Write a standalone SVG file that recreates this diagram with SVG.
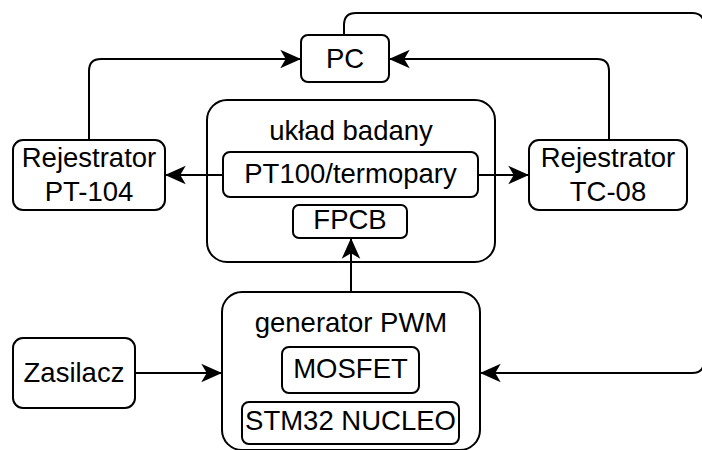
<svg xmlns="http://www.w3.org/2000/svg" width="702" height="450" viewBox="0 0 702 450">
<defs>
<style>
.box{fill:#fff;stroke:#000;stroke-width:2}
.t{font-family:"Liberation Sans",Arial,Helvetica,sans-serif;font-size:27.5px;fill:#000;text-anchor:middle}
.c{fill:none;stroke:#000;stroke-width:2}
</style>
<marker id="arr" markerUnits="userSpaceOnUse" markerWidth="24" markerHeight="24" viewBox="-20 -10 22 20" refX="0" refY="0" orient="auto">
<path d="M0,0 L-19,-8.5 L-14,0 L-19,8.5 Z" fill="#000" stroke="none"/>
</marker>
</defs>
<rect x="0" y="0" width="702" height="450" fill="#fff"/>
<g id="uklad">
<rect class="box" x="207" y="100" width="288" height="162" rx="20"/>
<text class="t" x="351" y="140">układ badany</text>
</g>
<g id="pt100">
<rect class="box" x="223" y="152" width="255" height="45" rx="7"/>
<text class="t" x="350.5" y="182.5">PT100/termopary</text>
</g>
<g id="fpcb">
<rect class="box" x="293" y="205" width="114" height="33" rx="6"/>
<text class="t" x="350" y="228.5">FPCB</text>
</g>
<g id="pc">
<rect class="box" x="301" y="35" width="88" height="47" rx="7"/>
<text class="t" x="345" y="68">PC</text>
</g>
<g id="pt104">
<rect class="box" x="13" y="140" width="152" height="70" rx="10"/>
<text class="t" x="89" y="167">Rejestrator</text>
<text class="t" x="89" y="201">PT-104</text>
</g>
<g id="tc08">
<rect class="box" x="529" y="140" width="158" height="70" rx="10"/>
<text class="t" x="608" y="167">Rejestrator</text>
<text class="t" x="608" y="201">TC-08</text>
</g>
<g id="generator">
<rect class="box" x="222" y="292" width="258" height="158" rx="20"/>
<text class="t" x="351" y="332">generator PWM</text>
</g>
<g id="mosfet">
<rect class="box" x="282" y="347" width="137" height="46" rx="7"/>
<text class="t" x="350.5" y="378">MOSFET</text>
</g>
<g id="stm32">
<rect class="box" x="242" y="402" width="217" height="42" rx="7"/>
<text class="t" x="350.5" y="430">STM32 NUCLEO</text>
</g>
<g id="zasilacz">
<rect class="box" x="13" y="338" width="122" height="70" rx="10"/>
<text class="t" x="74" y="382">Zasilacz</text>
</g>
<g id="connectors">
<path class="c" d="M223,175 H165" marker-end="url(#arr)"/>
<path class="c" d="M478,175 H529" marker-end="url(#arr)"/>
<path class="c" d="M89,140 V71 Q89,59 101,59 H301" marker-end="url(#arr)"/>
<path class="c" d="M609,140 V71 Q609,59 597,59 H389" marker-end="url(#arr)"/>
<path class="c" d="M351,292 V238" marker-end="url(#arr)"/>
<path class="c" d="M135,373 H222" marker-end="url(#arr)"/>
<path class="c" d="M344,35 V25 Q344,13 356,13 H692 Q704,13 704,25 V361 Q704,373 692,373 H480" marker-end="url(#arr)"/>
</g>
</svg>
